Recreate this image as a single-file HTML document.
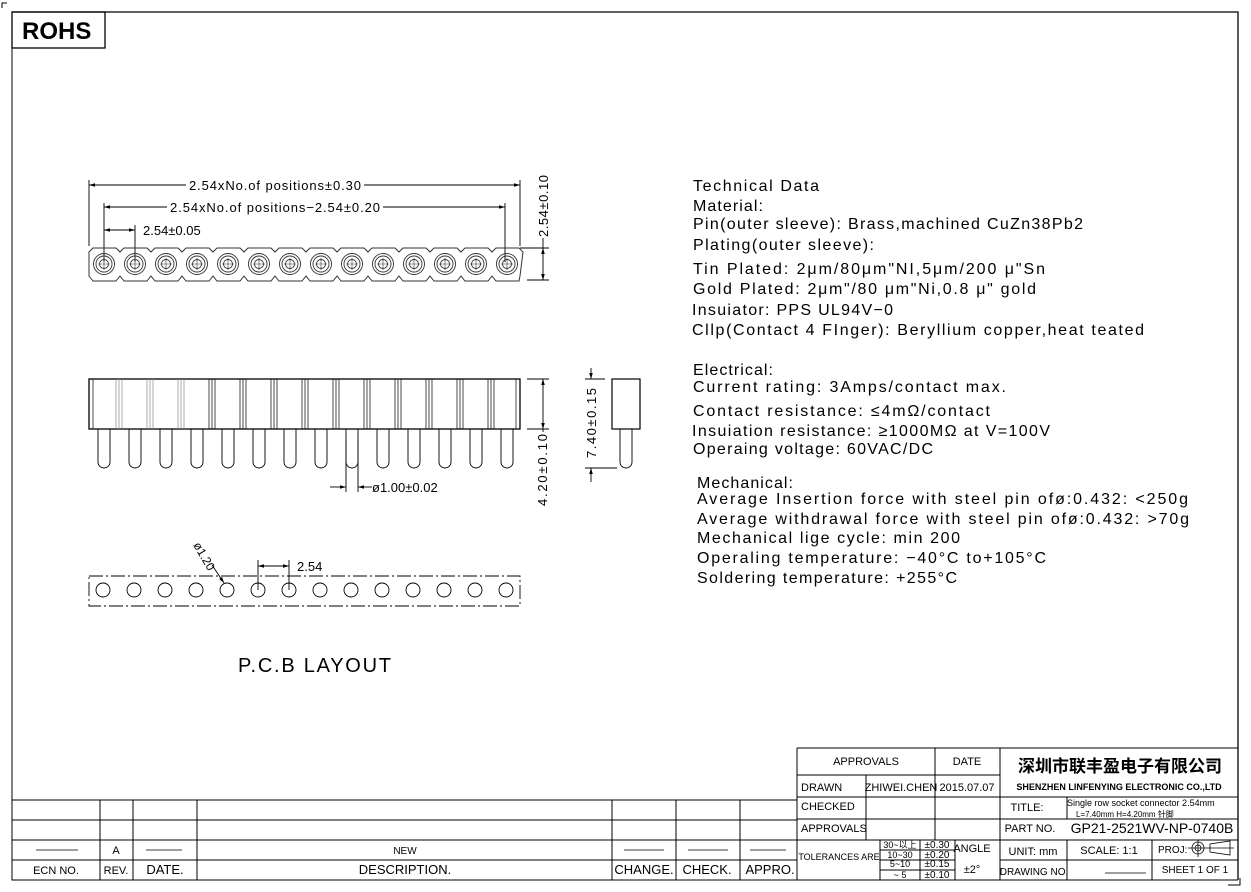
<!DOCTYPE html>
<html><head><meta charset="utf-8"><style>
html,body{margin:0;padding:0;background:#fff;}
svg{display:block;}
text{font-family:"Liberation Sans","Noto Sans CJK SC",sans-serif;fill:#000;}
</style></head><body>
<svg id="s" width="1251" height="892" viewBox="0 0 1251 892" xmlns="http://www.w3.org/2000/svg">
<defs>
<marker id="a" viewBox="0 0 10 6" refX="10" refY="3" markerWidth="8" markerHeight="4" orient="auto-start-reverse"><path d="M0,0L10,3L0,6z" fill="#000"/></marker>
</defs>
<g fill="none" stroke="#000" stroke-width="1">
<path d="M12,12H1238V880" stroke-width="1.3"/>
<path d="M12,12V880H797"/>
<path d="M2,8V3H7"/>
<path d="M1228,885H1240V878"/>
<rect x="12" y="12" width="93" height="36" stroke-width="1.3"/>
</g>
<text x="22" y="39" font-size="24" font-weight="bold">ROHS</text>

<g stroke="#000" stroke-width="0.9" fill="none">
<path d="M89,180V246M520,180V246"/>
<path d="M89,185H520" marker-start="url(#a)" marker-end="url(#a)"/>
<path d="M104,203V262M505,203V262"/>
<path d="M104,207H505" marker-start="url(#a)" marker-end="url(#a)"/>
<path d="M135,225V262"/>
<path d="M104,230H135" marker-start="url(#a)" marker-end="url(#a)"/>
<path d="M520,248H549M527,280H549"/>
<path d="M543,248V280" marker-start="url(#a)" marker-end="url(#a)"/>
<path d="M543,173V248"/>
</g>
<rect x="186" y="177" width="178" height="15" fill="#fff"/>
<text x="189" y="190" font-size="13" textLength="172" fill="#333">2.54xNo.of  positions±0.30</text>
<rect x="167" y="199" width="216" height="15" fill="#fff"/>
<text x="170" y="212" font-size="13" textLength="210" fill="#333">2.54xNo.of  positions−2.54±0.20</text>
<text x="143" y="235" font-size="13" fill="#333">2.54±0.05</text>
<rect x="536" y="172" width="14" height="66" fill="#fff"/>
<text transform="translate(548,237) rotate(-90)" font-size="13" textLength="62" fill="#333">2.54±0.10</text>

<g id="topv" fill="none" stroke="#333" stroke-width="0.9"></g>

<g id="front" fill="none" stroke="#000" stroke-width="0.9">
<rect x="89" y="379" width="431" height="50" stroke-width="1.3"/>
</g>
<g stroke="#000" stroke-width="0.9" fill="none">
<path d="M527,379H549M527,429H549"/>
<path d="M543,379V429" marker-start="url(#a)" marker-end="url(#a)"/>
<path d="M543,429V505"/>
<path d="M346,440V492M358,440V492"/>
<path d="M330,487H346" marker-end="url(#a)"/>
<path d="M372,487H358" marker-end="url(#a)"/>
<rect x="612" y="379" width="28" height="50" stroke-width="1.2"/>
<path d="M620,429V462A6,6 0 0 0 632,462V429"/>
<path d="M585,379H605M585,468H617"/>
<path d="M591,368V379" marker-end="url(#a)"/>
<path d="M591,482V468" marker-end="url(#a)"/>
</g>
<rect x="535" y="432" width="14" height="74" fill="#fff"/>
<text transform="translate(547,506) rotate(-90)" font-size="13" textLength="72" fill="#333">4.20±0.10</text>
<text x="372" y="492" font-size="13" fill="#333">ø1.00±0.02</text>
<text transform="translate(596,458) rotate(-90)" font-size="13" textLength="70" fill="#333">7.40±0.15</text>

<g id="pcb" fill="none" stroke="#000" stroke-width="0.9">
<rect x="89" y="576" width="431" height="30" stroke-dasharray="14,3,2,3"/>
<path d="M258,560V590M289,560V590"/>
<path d="M258,566H289" marker-start="url(#a)" marker-end="url(#a)"/>
<path d="M212,565L224,583" marker-end="url(#a)"/>
</g>
<text x="297" y="571" font-size="13" fill="#333">2.54</text>
<text transform="translate(193,545) rotate(60)" font-size="12" fill="#333">ø1.20</text>
<text x="238" y="672" font-size="20" textLength="153" fill="#333">P.C.B LAYOUT</text>

<g font-size="16" fill="#222">
<text x="693" y="191" textLength="126">Technical Data</text>
<text x="693" y="211" textLength="70">Material:</text>
<text x="693" y="229" textLength="390">Pin(outer sleeve): Brass,machined CuZn38Pb2</text>
<text x="693" y="250" textLength="181">Plating(outer sleeve):</text>
<text x="693" y="274" textLength="352">Tin Plated: 2μm/80μm"NI,5μm/200 μ"Sn</text>
<text x="693" y="294" textLength="343">Gold Plated: 2μm"/80 μm"Ni,0.8 μ"  gold</text>
<text x="692" y="315" textLength="201">Insuiator: PPS UL94V−0</text>
<text x="692" y="335" textLength="452">Cllp(Contact 4 FInger): Beryllium copper,heat teated</text>
<text x="693" y="375" textLength="80">Electrical:</text>
<text x="693" y="392" textLength="313">Current rating: 3Amps/contact max.</text>
<text x="693" y="416" textLength="297">Contact resistance: ≤4mΩ/contact</text>
<text x="692" y="436" textLength="358">Insuiation resistance: ≥1000MΩ  at  V=100V</text>
<text x="693" y="454" textLength="240">Operaing voltage: 60VAC/DC</text>
<text x="697" y="488" textLength="96">Mechanical:</text>
<text x="697" y="504" textLength="491">Average Insertion force with steel pin ofø:0.432: &lt;250g</text>
<text x="697" y="524" textLength="492">Average withdrawal force with steel pin ofø:0.432: &gt;70g</text>
<text x="697" y="543" textLength="263">Mechanical lige cycle: min 200</text>
<text x="697" y="563" textLength="349">Operaling temperature: −40°C   to+105°C</text>
<text x="697" y="583" textLength="260">Soldering temperature: +255°C</text>
</g>

<g fill="none" stroke="#000" stroke-width="1">
<path d="M12,800H797M12,820H797M12,840H797M12,860H797"/>
<path d="M100,800V880M133,800V880M197,800V880M612,800V880M676,800V880M740,800V880"/>
<path d="M36,850H78M146,850H182M624,850H664M688,850H728M750,850H786" stroke-width="0.8"/>
</g>
<g font-size="11" text-anchor="middle">
<text x="116" y="854">A</text>
<text x="405" y="854" font-size="10">NEW</text>
<text x="56" y="874" font-size="11">ECN NO.</text>
<text x="116" y="874" font-size="11">REV.</text>
<text x="165" y="874" font-size="13">DATE.</text>
<text x="405" y="874" font-size="13">DESCRIPTION.</text>
<text x="644" y="874" font-size="13">CHANGE.</text>
<text x="707" y="874" font-size="13">CHECK.</text>
<text x="770" y="874" font-size="13">APPRO.</text>
</g>

<g fill="none" stroke="#000" stroke-width="1">
<path d="M797,748H1238M797,748V880M797,775H1000M797,797H1238M797,819H1238M797,840H1238M797,880H1238"/>
<path d="M866,775V840M935,748V840M1000,748V880"/>
<path d="M1067,797V819M1067,840V880M1152,840V880M1000,860H1238"/>
<path d="M880,840V880M920,840V880M955,840V880M880,850H955M880,860H955M880,870H955"/>
<path d="M1188,848H1208M1198,840V857" stroke-width="0.8"/>
<circle cx="1198" cy="848" r="6" stroke-width="0.8"/>
<circle cx="1198" cy="848" r="3" stroke-width="0.8"/>
<path d="M1210,844V852L1230,855V841Z" stroke-width="0.8"/>
<path d="M1208,848H1234M1105,873H1146" stroke-width="0.8"/>
</g>
<g font-size="11" text-anchor="middle">
<text x="866" y="765">APPROVALS</text>
<text x="967" y="765">DATE</text>
<text x="1120" y="772" font-size="17" font-weight="bold">深圳市联丰盈电子有限公司</text>
<text x="1119" y="790" font-size="9" font-weight="bold" font-family="Liberation Serif,serif">SHENZHEN LINFENYING ELECTRONIC CO.,LTD</text>
<text x="901" y="791">ZHIWEI.CHEN</text>
<text x="967" y="791">2015.07.07</text>
<text x="1027" y="811">TITLE:</text>
<text x="1030" y="832">PART NO.</text>
<text x="1152" y="833" font-size="14" fill="#1a237e">GP21-2521WV-NP-0740B</text>
<text x="1033" y="855">UNIT:  mm</text>
<text x="1109" y="854">SCALE:    1:1</text>
<text x="1034" y="875" font-size="10">DRAWING NO.</text>
<text x="1195" y="873" font-size="10">SHEET    1  OF  1</text>
<text x="839" y="860" font-size="9">TOLERANCES  ARE</text>
<text x="900" y="848" font-size="9">30~以上</text>
<text x="900" y="858" font-size="9">10~30</text>
<text x="900" y="867" font-size="9">5~10</text>
<text x="900" y="878" font-size="9">~ 5</text>
<text x="937" y="848" font-size="10">±0.30</text>
<text x="937" y="858" font-size="10">±0.20</text>
<text x="937" y="867" font-size="10">±0.15</text>
<text x="937" y="878" font-size="10">±0.10</text>
<text x="972" y="852">ANGLE</text>
<text x="972" y="873">±2°</text>
</g>
<g font-size="11">
<text x="801" y="791">DRAWN</text>
<text x="801" y="810">CHECKED</text>
<text x="801" y="832">APPROVALS</text>
<text x="1158" y="853" font-size="10">PROJ:</text>
<text x="1067" y="806" font-size="9">Single row socket connector 2.54mm</text>
<text x="1076" y="817" font-size="8">L=7.40mm   H=4.20mm  针脚</text>
</g>
</svg>
<script>
(function(){
var ns="http://www.w3.org/2000/svg";
function el(p,t,a){var e=document.createElementNS(ns,t);for(var k in a)e.setAttribute(k,a[k]);p.appendChild(e);return e;}
var top=document.getElementById("topv"),fr=document.getElementById("front"),pcb=document.getElementById("pcb");
var d="M89,252";
for(var i=0;i<14;i++){var x0=89+31*i;d+=" L"+(x0+4)+",248 L"+(x0+27)+",248 L"+(x0+31)+",252";}
d+=" L520,276";
for(var i=13;i>=0;i--){var x0=89+31*i;d+=" L"+(x0+27)+",281 L"+(x0+4)+",281 L"+x0+",276";}
d+="Z";
el(top,"path",{d:d,"stroke-width":"1"});
for(var i=0;i<14;i++){var cx=104+31*i;
 el(top,"circle",{cx:cx,cy:264,r:10.5});
 el(top,"circle",{cx:cx,cy:264,r:8});
 el(top,"circle",{cx:cx,cy:264,r:4.5});
 el(top,"path",{d:"M"+(cx-6)+",264H"+(cx+6)+"M"+cx+",258V270","stroke-width":"0.6"});
 el(fr,"path",{d:"M"+(cx-6)+",429V462A6,6 0 0 0 "+(cx+6)+",462V429"});
 el(pcb,"circle",{cx:cx-1,cy:590,r:7});
}
for(var k=1;k<14;k++){var bx=89+31*k;
 var g=k<4?"#888":"#000";
 el(fr,"path",{d:"M"+(bx-4)+",379V429M"+(bx-1)+",379V429M"+(bx+2)+",379V429",stroke:g,"stroke-width":"0.7"});
}
el(fr,"path",{d:"M93,379V429M516,379V429","stroke-width":"0.7"});
})();
</script>
</body></html>
